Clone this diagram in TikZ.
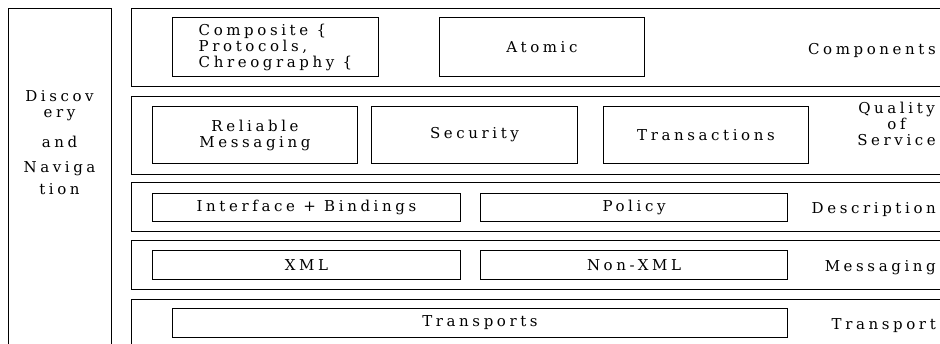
\documentclass[tikz,border=0pt]{standalone}
\usepackage{fontspec}
\setmainfont{DejaVu Serif}[LetterSpace=24]
\usepackage{tikz}
\tikzstyle{layer} = [rectangle, draw=black, line width=1pt, anchor=north west, inner sep=0pt, minimum width=830pt]
\tikzstyle{block} = [rectangle, draw=black, line width=1pt, anchor=north west, align=center, inner sep=0pt, font=\fontsize{15}{16}\selectfont]
\tikzstyle{tag} = [anchor=east, align=center, inner sep=0pt, font=\fontsize{15}{16}\selectfont]

\begin{document}
\begin{tikzpicture}[x=1pt, y=-1pt]
            \useasboundingbox (0,0) rectangle (940,344);
            \clip (0,0) rectangle (940,344);

            % Left column
            \node (discnav) [rectangle, draw=black, line width=1pt, anchor=north west, inner sep=0pt, minimum width=103pt, minimum height=370pt] at (8,8) {};
            \node (disc) [tag, anchor=center] at (59.5,105.5) {Discov\\ery};
            \node (and) [tag, anchor=center] at (59.5,142) {and};
            \node (nav) [tag, anchor=center] at (59.5,178) {Naviga\\[6pt]tion};

            % Layers
            \node (components) [layer, minimum height=78pt] at (131,8) {};
            \node (qos) [layer, minimum height=78pt] at (131,96) {};
            \node (description) [layer, minimum height=49pt] at (131,182) {};
            \node (messaging) [layer, minimum height=49pt] at (131,240) {};
            \node (transport) [layer, minimum height=70pt] at (131,299) {};

            % Blocks
            \node (composite) [block, align=left, minimum width=206pt, minimum height=59pt] at (172,17) {Composite \{\\Protocols,\\Chreography \{};
            \node (atomic) [block, minimum width=205pt, minimum height=59pt] at (439,17) {Atomic};
            \node (reliable) [block, minimum width=205pt, minimum height=57pt] at (152,106) {Reliable\\Messaging};
            \node (security) [block, minimum width=206pt, minimum height=57pt] at (371,106) {Security};
            \node (transactions) [block, minimum width=205pt, minimum height=57pt] at (603,106) {Transactions};
            \node (interface) [block, minimum width=308pt, minimum height=28pt] at (152,193) {Interface + Bindings};
            \node (policy) [block, minimum width=307pt, minimum height=28pt] at (480,193) {Policy};
            \node (xml) [block, minimum width=308pt, minimum height=29pt] at (152,250) {XML};
            \node (nonxml) [block, minimum width=307pt, minimum height=29pt] at (480,250) {Non-XML};
            \node (transports) [block, minimum width=615pt, minimum height=29pt] at (172,308) {Transports};

            % Layer labels
            \node (componentslabel) [tag] at (936,50) {Components};
            \node (qoslabel) [tag] at (936,124) {Quality\\of\\Service};
            \node (descriptionlabel) [tag] at (936,210) {Description};
            \node (messaginglabel) [tag] at (936,268) {Messaging};
            \node (transportlabel) [tag] at (936,326) {Transport};
        \end{tikzpicture}
\end{document}
